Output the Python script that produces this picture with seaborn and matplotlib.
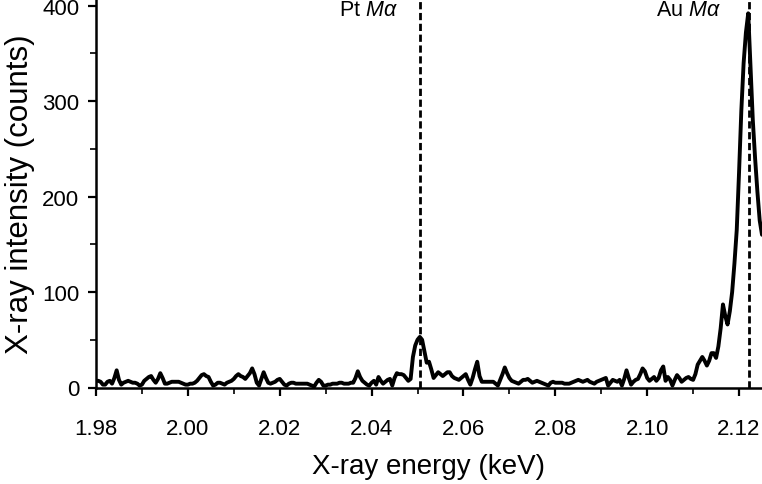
#!/usr/bin/env python3

import numpy as np
import pandas as pd
import matplotlib
matplotlib.use("Agg")
import matplotlib.pyplot as plt
import seaborn as sns
from matplotlib.ticker import MultipleLocator

# spectrum sampled every 0.5 eV from 1.980 to 2.125 keV
E_START = 1.980
E_STEP = 0.0005
counts = [
    7, 7, 6, 3, 3, 6, 7, 4, 10, 18, 8, 3, 5, 6, 7, 6, 5, 5, 4, 2,
    3, 7, 9, 11, 12, 8, 5, 9, 15, 10, 4, 4, 5, 6, 6, 6, 6, 5, 4, 3,
    3, 4, 4, 5, 7, 10, 13, 14, 12, 11, 6, 2, 3, 5, 5, 4, 3, 5, 6, 7,
    9, 12, 14, 12, 11, 9, 12, 15, 20, 14, 5, 2, 9, 16, 10, 5, 4, 5, 6, 8,
    9, 6, 3, 2, 4, 5, 5, 4, 4, 4, 4, 4, 4, 3, 2, 1, 5, 8, 6, 2,
    2, 3, 3, 4, 4, 4, 5, 5, 4, 4, 4, 5, 5, 10, 17, 11, 7, 5, 3, 2,
    5, 7, 3, 11, 7, 4, 6, 8, 9, 2, 10, 15, 14, 14, 13, 10, 7, 9, 32, 44,
    50, 53, 50, 38, 26, 27, 19, 10, 13, 16, 14, 12, 14, 16, 16, 12, 10, 9, 8, 10,
    12, 14, 8, 3, 10, 19, 27, 12, 6, 6, 6, 6, 6, 6, 4, 2, 8, 14, 21, 15,
    10, 7, 6, 5, 4, 6, 8, 8, 9, 7, 5, 6, 7, 6, 5, 4, 3, 2, 5, 6,
    5, 5, 5, 5, 4, 4, 4, 5, 6, 7, 8, 7, 6, 7, 8, 6, 5, 4, 6, 7,
    8, 9, 10, 2, 5, 8, 7, 6, 8, 2, 9, 18, 10, 3, 6, 8, 9, 14, 20, 17,
    10, 7, 9, 11, 7, 10, 18, 22, 7, 11, 8, 2, 8, 13, 10, 6, 8, 10, 11, 9,
    8, 14, 24, 28, 32, 28, 23, 28, 36, 36, 31, 43, 62, 87, 75, 66, 80, 100, 130, 165,
    225, 290, 340, 372, 392, 335, 280, 240, 205, 175, 160,
]
energy = np.round(E_START + E_STEP * np.arange(len(counts)), 4)

lines = [("Pt", 2.0505), ("Au", 2.1222)]
line_label_x = [2.0394, 2.1089]

df = pd.DataFrame({"energy": energy, "counts": counts})

sns.set_style("ticks")
plt.rcParams["font.family"] = ["Liberation Sans", "DejaVu Sans"]
plt.rcParams["mathtext.fontset"] = "custom"
plt.rcParams["mathtext.rm"] = "Liberation Sans"
plt.rcParams["mathtext.it"] = "Liberation Sans:italic"
plt.rcParams["text.color"] = "black"
plt.rcParams["axes.labelcolor"] = "black"
plt.rcParams["xtick.color"] = "black"
plt.rcParams["ytick.color"] = "black"

fig = plt.figure(figsize=(7.62, 4.85), dpi=100)
ax = fig.add_axes([96 / 762, 1 - 388.5 / 485, 666 / 762, 388.5 / 485])

sns.lineplot(data=df, x="energy", y="counts", color="black", linewidth=2.8, ax=ax)

for (name, e), lx in zip(lines, line_label_x):
    ax.axvline(e, color="black", linestyle=(0, (2.6, 1.3)), linewidth=2.0)
    ax.text(lx, 396, name + r" $\mathit{M\alpha}$", ha="center", va="center", fontsize=15.5)

ax.set_xlim(1.98, 2.125)
ax.set_ylim(0, 407)
ax.xaxis.set_major_locator(MultipleLocator(0.02))
ax.xaxis.set_minor_locator(MultipleLocator(0.01))
ax.yaxis.set_major_locator(MultipleLocator(100))
ax.yaxis.set_minor_locator(MultipleLocator(50))
ax.xaxis.set_major_formatter(lambda v, p: "{:.2f}".format(v))
ax.tick_params(which="major", length=6, width=1.6, labelsize=16, pad=16)
ax.tick_params(which="minor", length=4, width=1.2)
ax.tick_params(axis="y", pad=6)

ax.set_xlabel("X-ray energy (keV)", fontsize=20, labelpad=10)
ax.set_ylabel("X-ray intensity (counts)", fontsize=22.5, labelpad=5)
for side in ["left", "bottom"]:
    ax.spines[side].set_linewidth(1.8)
    ax.spines[side].set_color("black")
sns.despine(ax=ax)

fig.savefig("out.png", dpi=100)
